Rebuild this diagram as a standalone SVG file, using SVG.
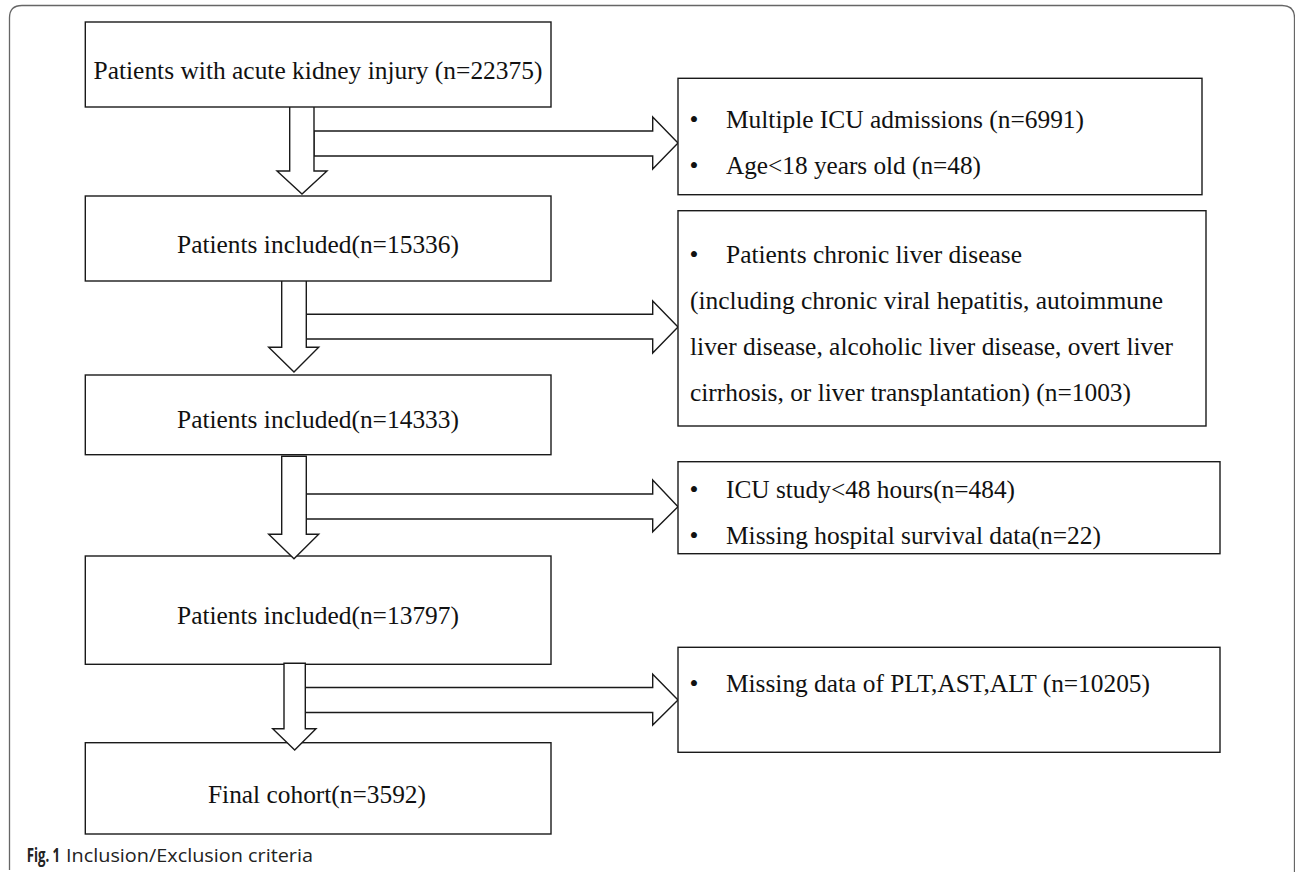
<svg xmlns="http://www.w3.org/2000/svg" width="1295" height="872" viewBox="0 0 1295 872">
<style>
.box{fill:#fff;stroke:#1a1a1a;stroke-width:1.4}
.arr{fill:#fff;stroke:#1a1a1a;stroke-width:1.4;stroke-linejoin:miter}
.t{font-family:"Liberation Serif","Times New Roman",serif;font-size:25.4px;fill:#111}
.c{text-anchor:middle}
.cap{font-family:"Open Sans","Noto Sans","Liberation Sans",sans-serif;font-size:18.5px;fill:#222}
.capb{font-family:"Open Sans","Noto Sans","Liberation Sans",sans-serif;font-size:20px;font-weight:bold;fill:#222}
</style>
<rect width="1295" height="872" fill="#fff"/>
<path d="M9.5,870 Q9.5,866 9.5,862 L9.5,18 Q9.5,5.5 22,5.5 L1282,5.5 Q1294.5,5.5 1294.5,18 L1294.5,872" fill="none" stroke="#666" stroke-width="1.3"/>
<g id="connectors">
<polygon class="arr" points="314,131 652.7,131 652.7,117 678,143 652.7,169 652.7,156 314,156"/>
<polygon class="arr" points="289.7,100 314,100 314,171 327,171 302,194 277,171 289.7,171"/>
<polygon class="arr" points="306.3,314.3 652.7,314.3 652.7,301 678,327 652.7,353 652.7,339 306.3,339"/>
<polygon class="arr" points="281.7,277.7 306.3,277.7 306.3,347.3 318.7,347.3 294,372 268.7,347.3 281.7,347.3"/>
<polygon class="arr" points="306.3,494 652.7,494 652.7,480 678,506.7 652.7,531.7 652.7,519 306.3,519"/>
<polygon class="arr" points="305.3,687.5 652.7,687.5 652.7,674.3 678,700 652.7,725 652.7,712.5 305.3,712.5"/>
</g>
<g id="n1"><rect class="box" x="85.3" y="22" width="465.7" height="85"/>
<text class="t c" x="318" y="79" textLength="449" lengthAdjust="spacingAndGlyphs">Patients with acute kidney injury (n=22375)</text></g>
<g id="n2"><rect class="box" x="85.3" y="196" width="465.7" height="85"/>
<text class="t c" x="318" y="253" textLength="282" lengthAdjust="spacingAndGlyphs">Patients included(n=15336)</text></g>
<g id="n3"><rect class="box" x="85.3" y="375" width="465.7" height="79.7"/>
<text class="t c" x="318" y="428.3" textLength="282" lengthAdjust="spacingAndGlyphs">Patients included(n=14333)</text></g>
<g id="n4"><rect class="box" x="85.3" y="556" width="465.7" height="108.3"/>
<text class="t c" x="318" y="624" textLength="282" lengthAdjust="spacingAndGlyphs">Patients included(n=13797)</text></g>
<g id="n5"><rect class="box" x="85.3" y="742.7" width="465.7" height="91.3"/>
<text class="t c" x="317" y="802.7" textLength="218" lengthAdjust="spacingAndGlyphs">Final cohort(n=3592)</text></g>
<g id="connectors-down">
<polygon class="arr" points="281.7,456.3 306.3,456.3 306.3,534.3 318.7,534.3 294,558.7 268.7,534.3 281.7,534.3"/>
<polygon class="arr" points="284,663.3 305.3,663.3 305.3,728.7 316,728.7 294.7,750 272.7,728.7 284,728.7"/>
</g>
<g id="e1"><rect class="box" x="678" y="78.3" width="524" height="116.4"/>
<text class="t" x="689.6" y="128">•</text>
<text class="t" x="726" y="128" textLength="358" lengthAdjust="spacingAndGlyphs">Multiple ICU admissions (n=6991)</text>
<text class="t" x="689.6" y="174">•</text>
<text class="t" x="726" y="174" textLength="255" lengthAdjust="spacingAndGlyphs">Age&lt;18 years old (n=48)</text></g>
<g id="e2"><rect class="box" x="678" y="210.7" width="528" height="215.3"/>
<text class="t" x="689.6" y="263">•</text>
<text class="t" x="726" y="263" textLength="296" lengthAdjust="spacingAndGlyphs">Patients chronic liver disease</text>
<text class="t" x="690" y="309" textLength="473" lengthAdjust="spacingAndGlyphs">(including chronic viral hepatitis, autoimmune</text>
<text class="t" x="690" y="355" textLength="483" lengthAdjust="spacingAndGlyphs">liver disease, alcoholic liver disease, overt liver</text>
<text class="t" x="690" y="401" textLength="441" lengthAdjust="spacingAndGlyphs">cirrhosis, or liver transplantation) (n=1003)</text></g>
<g id="e3"><rect class="box" x="678" y="461.7" width="542" height="92"/>
<text class="t" x="689.6" y="498">•</text>
<text class="t" x="726" y="498" textLength="289" lengthAdjust="spacingAndGlyphs">ICU study&lt;48 hours(n=484)</text>
<text class="t" x="689.6" y="544">•</text>
<text class="t" x="726" y="544" textLength="375" lengthAdjust="spacingAndGlyphs">Missing hospital survival data(n=22)</text></g>
<g id="e4"><rect class="box" x="678" y="647.3" width="542" height="105"/>
<text class="t" x="689.6" y="691.7">•</text>
<text class="t" x="726" y="691.7" textLength="424" lengthAdjust="spacingAndGlyphs">Missing data of PLT,AST,ALT (n=10205)</text></g>
<g id="caption">
<text class="capb" transform="translate(26.7 861.7) scale(0.66 1)">Fig. 1</text>
<text class="cap" x="66" y="861.7" textLength="247" lengthAdjust="spacingAndGlyphs">Inclusion/Exclusion criteria</text>
</g>
</svg>
